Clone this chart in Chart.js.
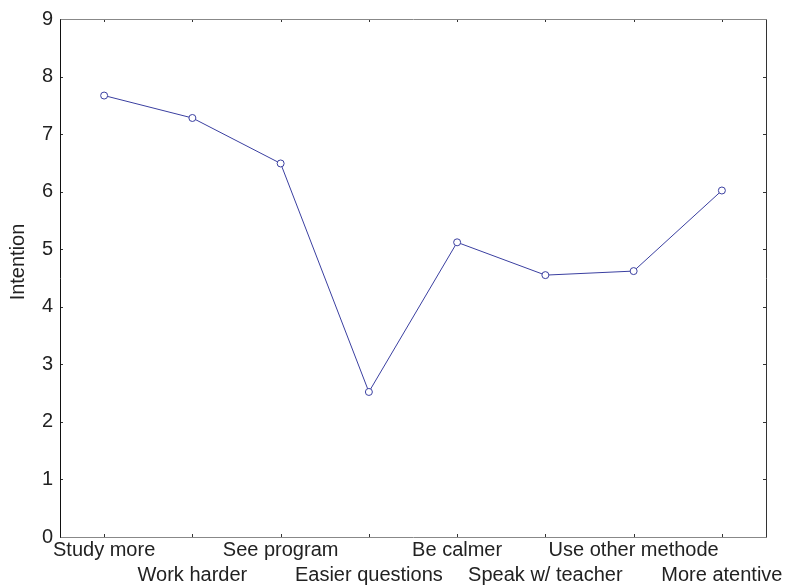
<!DOCTYPE html>
<html>
<head>
<meta charset="utf-8">
<script src="https://cdn.jsdelivr.net/npm/chart.js@4/dist/chart.umd.min.js"></script>
<style>
html,body{margin:0;padding:0;background:#fff;}
#wrap{width:785px;height:585px;}
</style>
</head>
<body>
<div id="wrap"><canvas id="c" width="785" height="585"></canvas></div>
<script>
const categories = ["Study more","Work harder","See program","Easier questions","Be calmer","Speak w/ teacher","Use other methode","More atentive"];
const intention = [7.67, 7.28, 6.49, 2.52, 5.12, 4.55, 4.62, 6.02];
const yTicks = [0,1,2,3,4,5,6,7,8,9];
const yTitle = 'Intention';

const labels = categories.map((c,i) => i % 2 === 0 ? c : ['', c]);
const FONT = 'Liberation Sans, Arial, sans-serif';

const frame = {
  id: 'frame',
  afterDraw(chart) {
    const {ctx, chartArea: a, scales} = chart;
    ctx.save();
    ctx.lineWidth = 1;
    ctx.strokeStyle = '#333';
    ctx.beginPath();
    yTicks.forEach(v => {
      const y = Math.round(scales.y.getPixelForValue(v)) + 0.5;
      ctx.moveTo(a.left, y); ctx.lineTo(a.left + 3, y);
      ctx.moveTo(a.right, y); ctx.lineTo(a.right - 3, y);
    });
    categories.forEach((c,i) => {
      const x = Math.round(scales.x.getPixelForValue(i)) + 0.5;
      ctx.moveTo(x, a.bottom); ctx.lineTo(x, a.bottom - 3);
      ctx.moveTo(x, a.top); ctx.lineTo(x, a.top + 3);
    });
    ctx.stroke();
    const L = Math.round(a.left) + 0.5, R = Math.round(a.right) + 0.5;
    const T = Math.round(a.top) + 0.5, B = Math.round(a.bottom) + 0.5;
    ctx.strokeStyle = '#888';
    ctx.beginPath(); ctx.moveTo(L, T); ctx.lineTo(R, T); ctx.stroke();
    ctx.beginPath(); ctx.moveTo(L, B); ctx.lineTo(R, B); ctx.stroke();
    ctx.strokeStyle = '#111';
    ctx.beginPath(); ctx.moveTo(L, T); ctx.lineTo(L, B); ctx.stroke();
    ctx.strokeStyle = '#333';
    ctx.beginPath(); ctx.moveTo(R, T); ctx.lineTo(R, B); ctx.stroke();
    ctx.fillStyle = '#222';
    ctx.font = '20px ' + FONT;
    ctx.textAlign = 'center';
    ctx.textBaseline = 'middle';
    ctx.translate(18, 262);
    ctx.rotate(-Math.PI / 2);
    ctx.fillText(yTitle, 0, 0);
    ctx.restore();
  }
};

new Chart(document.getElementById('c'), {
  type: 'line',
  data: {
    labels: labels,
    datasets: [{
      data: intention,
      borderColor: '#3a3fa0',
      borderWidth: 1,
      backgroundColor: '#ffffff',
      pointBackgroundColor: '#ffffff',
      pointBorderColor: '#3a3fa0',
      pointBorderWidth: 1,
      pointRadius: 3.5,
      tension: 0,
      fill: false
    }]
  },
  options: {
    responsive: false,
    animation: false,
    layout: { padding: { top: 17, right: 19, left: 0, bottom: 0 } },
    plugins: { legend: { display: false }, tooltip: { enabled: false } },
    scales: {
      x: {
        type: 'category',
        offset: true,
        grid: { display: false, drawTicks: false },
        border: { display: false },
        ticks: {
          color: '#222',
          font: { family: FONT, size: 20, lineHeight: 1.25 },
          padding: 1,
          maxRotation: 0,
          autoSkip: false
        },
        afterFit(scale) { scale.height = 48; }
      },
      y: {
        min: 0, max: 9,
        grid: { display: false, drawTicks: false },
        border: { display: false },
        afterBuildTicks(scale) { scale.ticks = yTicks.map(v => ({value: v})); },
        ticks: {
          color: '#222',
          font: { family: FONT, size: 20 },
          padding: 7
        },
        afterFit(scale) { scale.width = 60; }
      }
    }
  },
  plugins: [frame]
});
</script>
</body>
</html>
